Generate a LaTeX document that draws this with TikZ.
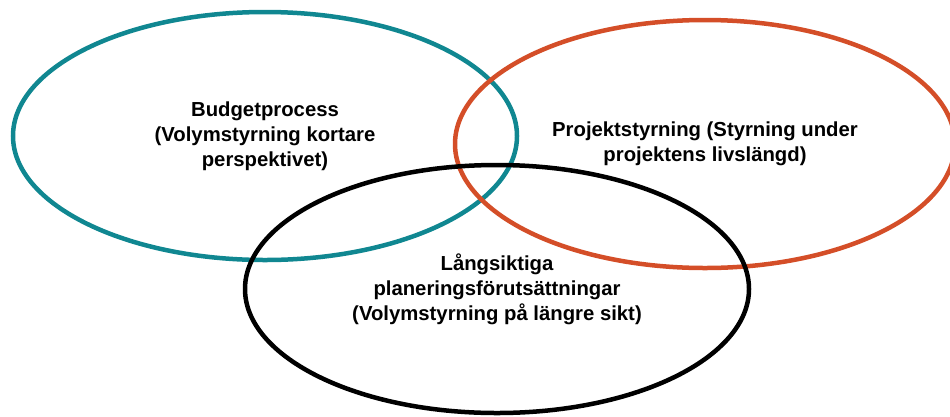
\documentclass[tikz,border=0pt]{standalone}
\usepackage{fontspec}
\setmainfont{Liberation Sans}
\usetikzlibrary{shapes.geometric}
\definecolor{budgetteal}{RGB}{16,135,145}
\definecolor{projorange}{RGB}{212,78,40}
\tikzset{
	ring/.style={ellipse, line width=4.5pt, minimum width=504pt, minimum height=248pt, inner sep=0pt},
	lbl/.style={align=center, font=\fontsize{20.3}{25}\selectfont\bfseries}
}

\begin{document}
\begin{tikzpicture}[x=1pt, y=-1pt]
			%%%%% START %%%%%
			\useasboundingbox (0, 0) rectangle (950, 416);
			
			\node[ring, lbl, draw=budgetteal] (budget) at (265, 136) {Budgetprocess\\(Volymstyrning kortare\\perspektivet)};
			
			\node[ring, lbl, draw=projorange, minimum width=500pt] (projekt) at (705, 144) {Projektstyrning (Styrning under\\projektens livslängd)};
			
			\node[ring, lbl, draw=black] (langsikt) at (497, 289) {Långsiktiga\\planeringsförutsättningar\\(Volymstyrning på längre sikt)};
			
			%%%%% END %%%%%
\end{tikzpicture}
\end{document}
